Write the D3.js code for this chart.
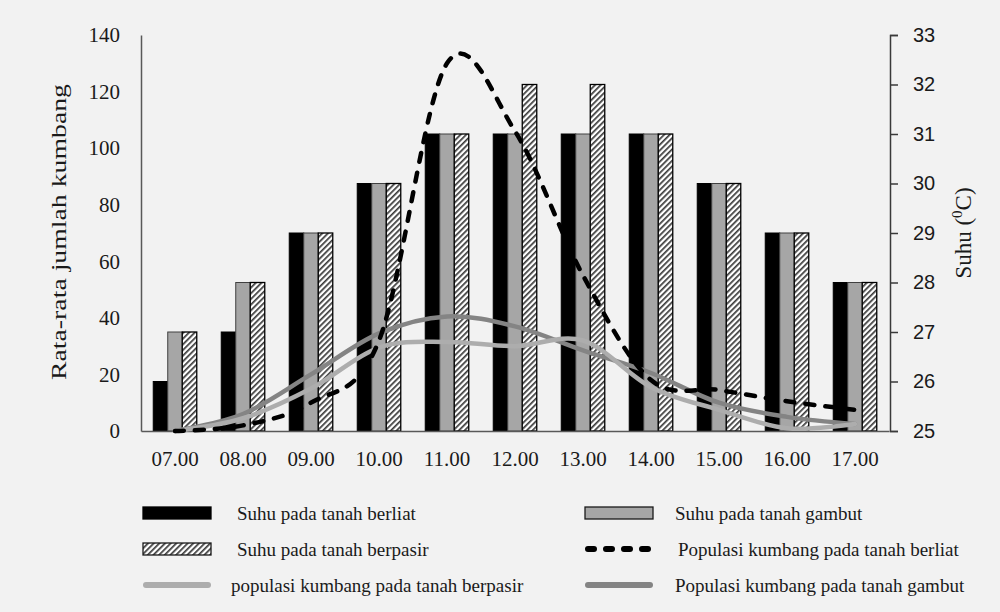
<!DOCTYPE html>
<html>
<head>
<meta charset="utf-8">
<script src="https://cdn.jsdelivr.net/npm/d3@7"></script>
<style>
  html, body { margin: 0; padding: 0; background: #f2f2f2; }
  svg { display: block; }
</style>
</head>
<body>
<svg id="chart" width="1000" height="612"></svg>
<script>
// ---- Data ----
const hours = ["07.00","08.00","09.00","10.00","11.00","12.00","13.00","14.00","15.00","16.00","17.00"];
const suhuBerliat  = [26, 27, 29, 30, 31, 31, 31, 31, 30, 29, 28];
const suhuGambut   = [27, 28, 29, 30, 31, 31, 31, 31, 30, 29, 28];
const suhuBerpasir = [27, 28, 29, 30, 31, 32, 32, 31, 30, 29, 28];
const popBerliat   = [0, 2, 10, 32, 130, 106, 55, 18, 14.5, 10.5, 7.5];
const popBerpasir  = [0, 4.5, 15, 29.5, 31.5, 30, 32, 15.5, 7.5, 1, 2.5];
const popGambut    = [0, 6, 20, 34.5, 40.5, 37, 28.5, 20.5, 10, 5, 2.5];
const leftTicks  = [0, 20, 40, 60, 80, 100, 120, 140];
const rightTicks = [25, 26, 27, 28, 29, 30, 31, 32, 33];
const legendLabels = [
  "Suhu pada tanah berliat", "Suhu pada tanah gambut",
  "Suhu pada tanah berpasir", "Populasi kumbang pada tanah berliat",
  "populasi kumbang pada tanah berpasir", "Populasi kumbang pada tanah gambut"
];

// ---- Setup ----
const svg = d3.select("#chart");
const serif = "'Liberation Serif', 'Times New Roman', serif";
const sans = "'Liberation Sans', Arial, sans-serif";

svg.append("rect").attr("width", 1000).attr("height", 612).attr("fill", "#f2f2f2");

const defs = svg.append("defs");
const pat = defs.append("pattern")
  .attr("id", "hatch").attr("patternUnits", "userSpaceOnUse")
  .attr("width", 4).attr("height", 4)
  .attr("patternTransform", "rotate(45)");
pat.append("rect").attr("width", 4).attr("height", 4).attr("fill", "#ffffff");
pat.append("rect").attr("width", 1.7).attr("height", 4).attr("fill", "#3a3a3a");

const L = 141, R = 889, T = 35, B = 431;
const x = d3.scaleBand().domain(hours).range([L, R]).paddingInner(0.36).paddingOuter(0.18);
const xs = d3.scaleBand().domain([0, 1, 2]).range([0, x.bandwidth()]);
const yL = d3.scaleLinear().domain([0, 140]).range([B, T]);
const yR = d3.scaleLinear().domain([25, 33]).range([B, T]);

// ---- Bars ----
const barSeries = [
  { vals: suhuBerliat,  fill: "#000000", stroke: "#000000", sw: 1 },
  { vals: suhuGambut,   fill: "#a6a6a6", stroke: "#404040", sw: 1 },
  { vals: suhuBerpasir, fill: "url(#hatch)", stroke: "#000000", sw: 1.3 }
];
barSeries.forEach((s, si) => {
  svg.append("g").selectAll("rect").data(hours).join("rect")
    .attr("x", d => x(d) + xs(si))
    .attr("y", (d, i) => yR(s.vals[i]))
    .attr("width", xs.bandwidth())
    .attr("height", (d, i) => yR(25) - yR(s.vals[i]))
    .attr("fill", s.fill)
    .attr("stroke", s.stroke)
    .attr("stroke-width", s.sw);
});

// ---- Axes ----
const axL = svg.append("g").attr("transform", `translate(${L},0)`)
  .call(d3.axisLeft(yL).tickValues(leftTicks).tickSize(0).tickPadding(21));
axL.select(".domain").attr("stroke", "#595959").attr("stroke-width", 1.5);
axL.selectAll("text").attr("font-family", serif).attr("font-size", 21).attr("fill", "#1a1a1a");

const axB = svg.append("g").attr("transform", `translate(0,${B})`)
  .call(d3.axisBottom(x).tickSize(0).tickPadding(20));
axB.select(".domain").attr("stroke", "#595959").attr("stroke-width", 1.5);
axB.selectAll("text").attr("font-family", serif).attr("font-size", 21).attr("fill", "#1a1a1a");

const axR = svg.append("g").attr("transform", `translate(${R + 1},0)`)
  .call(d3.axisRight(yR).tickValues(rightTicks).tickSize(8).tickPadding(15));
axR.select(".domain").attr("stroke", "#3a3a3a").attr("stroke-width", 1.5);
axR.selectAll("line").attr("stroke", "#3a3a3a").attr("stroke-width", 1.5);
axR.selectAll("text").attr("font-family", sans).attr("font-size", 20).attr("fill", "#1a1a1a");

// ---- Axis titles ----
svg.append("text")
  .attr("transform", "translate(66,232) rotate(-90)")
  .attr("text-anchor", "middle")
  .attr("font-family", serif).attr("font-size", 22).attr("fill", "#1a1a1a")
  .attr("textLength", 296).attr("lengthAdjust", "spacingAndGlyphs")
  .text("Rata-rata jumlah kumbang");

const rt = svg.append("text")
  .attr("transform", "translate(971,233) rotate(-90)")
  .attr("text-anchor", "middle")
  .attr("font-family", serif).attr("font-size", 23).attr("fill", "#1a1a1a");
rt.append("tspan").text("Suhu (");
rt.append("tspan").attr("font-size", 15).attr("dy", -9).text("0");
rt.append("tspan").attr("dy", 9).text("C)");

// ---- Lines ----
const line = vals => d3.line()
  .x((d, i) => x(hours[i]) + x.bandwidth() / 2)
  .y(d => yL(d))
  .curve(d3.curveCardinal.tension(0))(vals);

svg.append("path").attr("d", line(popGambut))
  .attr("fill", "none").attr("stroke", "#848484").attr("stroke-width", 4.5)
  .attr("stroke-linecap", "round");
svg.append("path").attr("d", line(popBerpasir))
  .attr("fill", "none").attr("stroke", "#adadad").attr("stroke-width", 4.5)
  .attr("stroke-linecap", "round");
svg.append("path").attr("d", line(popBerliat))
  .attr("fill", "none").attr("stroke", "#000000").attr("stroke-width", 4.5)
  .attr("stroke-dasharray", "9,11").attr("stroke-linecap", "round");

// ---- Legend ----
const lg = svg.append("g");
const colX = [143, 585];
const textX = [237, 675];
const rowY = [513, 549, 585];
const legendItems = [
  { type: "rect", fill: "#000000", stroke: "#000000" },
  { type: "rect", fill: "#a6a6a6", stroke: "#1a1a1a" },
  { type: "rect", fill: "url(#hatch)", stroke: "#1a1a1a" },
  { type: "line", color: "#000000", dash: "6,12" },
  { type: "line", color: "#adadad", dash: null },
  { type: "line", color: "#848484", dash: null }
];
legendItems.forEach((it, i) => {
  const cx = colX[i % 2], cy = rowY[Math.floor(i / 2)];
  if (it.type === "rect") {
    lg.append("rect").attr("x", cx).attr("y", cy - 6).attr("width", 68).attr("height", 12)
      .attr("fill", it.fill).attr("stroke", it.stroke).attr("stroke-width", 1.3);
  } else {
    lg.append("line").attr("x1", cx + 3).attr("x2", cx + 65).attr("y1", cy).attr("y2", cy)
      .attr("stroke", it.color).attr("stroke-width", 6).attr("stroke-linecap", "round")
      .attr("stroke-dasharray", it.dash);
  }
  lg.append("text").attr("x", textX[i % 2] - (i === 4 ? 6 : 0) + (i === 3 ? 3 : 0)).attr("y", cy)
    .attr("dy", "0.35em")
    .attr("font-family", serif).attr("font-size", 19).attr("fill", "#1a1a1a")
    .text(legendLabels[i]);
});
</script>
</body>
</html>
